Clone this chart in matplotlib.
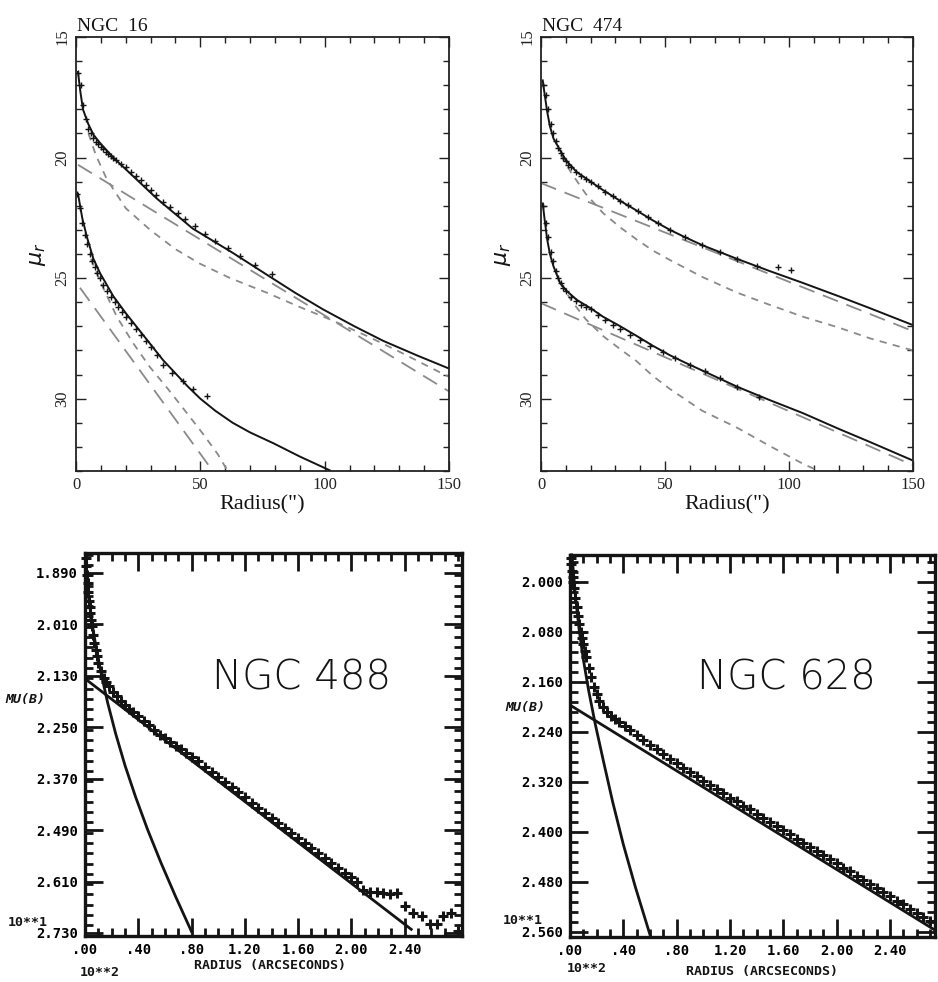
import matplotlib
matplotlib.use("Agg")
import matplotlib.pyplot as plt
from matplotlib.ticker import MultipleLocator, FixedLocator, FixedFormatter

# ---------------- data: top panels (radius in arcsec, mu_r in mag/arcsec^2) ----------------
# NGC 16 upper profile
n16_up_pts_x = [1, 2, 3, 4, 5, 6, 7, 8, 9, 10, 11, 12, 13, 14, 15, 16, 18, 20, 22, 24, 26, 28, 30, 32,
                35, 38, 41, 44, 48, 52, 56, 61, 66, 72, 79]
n16_up_pts_y = [16.5, 17.0, 17.8, 18.4, 18.8, 19.0, 19.2, 19.35, 19.45, 19.55, 19.65, 19.75, 19.85, 19.95,
                20.0, 20.1, 20.25, 20.4, 20.6, 20.75, 20.95, 21.15, 21.35, 21.55, 21.85, 22.05, 22.3, 22.55,
                22.85, 23.15, 23.45, 23.75, 24.1, 24.45, 24.85]
n16_up_fit_x = [0.8, 1.8, 2.8, 4.9, 7, 9.7, 15, 21.7, 32.5, 47, 63, 76.6, 88, 99.4, 112, 123.5, 137, 150]
n16_up_fit_y = [16.45, 17.3, 18.0, 18.6, 19.05, 19.4, 20.0, 20.65, 21.7, 22.95, 23.95, 24.85, 25.6, 26.3,
                27.0, 27.6, 28.2, 28.75]
n16_up_disk_x = [0.8, 150]
n16_up_disk_y = [20.3, 29.7]
n16_up_bulge_x = [5, 8, 12.4, 20, 29.8, 40, 49.8, 62, 76.6, 90, 103, 117, 130, 150]
n16_up_bulge_y = [19.0, 19.9, 20.9, 22.1, 23.0, 23.8, 24.4, 25.0, 25.6, 26.2, 26.75, 27.4, 28.05, 29.1]
# NGC 16 lower profile
n16_lo_pts_x = [0.5, 1.5, 2.5, 3.5, 4.5, 5.5, 6.5, 7.5, 8.5, 9.5, 11, 12.5, 14, 15.5, 17, 18.5, 20, 22,
                24, 26, 28, 30, 32.5, 35.1, 38.5, 42.9, 47.2, 52.5]
n16_lo_pts_y = [21.5, 22.1, 22.7, 23.2, 23.6, 24.0, 24.3, 24.55, 24.8, 25.0, 25.3, 25.55, 25.8, 26.0, 26.2,
                26.4, 26.6, 26.85, 27.1, 27.35, 27.6, 27.85, 28.2, 28.6, 28.95, 29.27, 29.58, 29.88]
n16_lo_fit_x = [0.8, 2.5, 4.4, 7, 9.7, 15, 20, 25, 30, 35, 40, 45, 50, 56, 63, 70, 79.4, 90, 102]
n16_lo_fit_y = [21.5, 22.5, 23.3, 24.2, 24.8, 25.75, 26.45, 27.1, 27.75, 28.4, 28.95, 29.5, 30.0, 30.5,
                31.0, 31.4, 31.85, 32.4, 32.97]
n16_lo_disk_x = [1.6, 55]
n16_lo_disk_y = [25.4, 33.0]
n16_lo_bulge_x = [6, 10, 16.4, 23, 29.8, 37, 44.6, 51, 57, 61]
n16_lo_bulge_y = [24.2, 25.2, 26.6, 27.7, 28.7, 29.6, 30.6, 31.45, 32.3, 33.0]

# NGC 474 upper profile
n474_up_pts_x = [1, 2, 3, 4, 5, 6, 7, 8, 9, 10, 11, 12, 14, 16, 18, 20, 23, 26, 29, 32, 35, 39, 43, 47,
                 52, 58, 65, 72, 79, 87, 95.6, 101]
n474_up_pts_y = [17.0, 17.4, 18.0, 18.6, 19.0, 19.3, 19.6, 19.8, 20.0, 20.15, 20.3, 20.4, 20.6, 20.75,
                 20.9, 21.0, 21.2, 21.42, 21.6, 21.8, 21.98, 22.22, 22.48, 22.72, 23.0, 23.3, 23.63, 23.92,
                 24.2, 24.5, 24.53, 24.67]
n474_up_fit_x = [0.7, 1.5, 2.5, 3.6, 5, 7.7, 10, 14.4, 20, 25, 32, 38.6, 45, 52, 58, 65.4, 79, 92, 105.6,
                 120, 132.7, 150]
n474_up_fit_y = [16.8, 17.4, 18.1, 18.7, 19.2, 19.7, 20.1, 20.6, 21.0, 21.35, 21.8, 22.2, 22.6, 23.0, 23.3,
                 23.65, 24.2, 24.7, 25.2, 25.75, 26.25, 26.95]
n474_up_disk_x = [0, 150]
n474_up_disk_y = [21.06, 27.2]
n474_up_bulge_x = [8, 12, 18, 25, 32, 38.6, 45, 52, 65, 79, 92, 105.6, 120, 132.7, 150]
n474_up_bulge_y = [19.9, 20.6, 21.5, 22.3, 22.9, 23.4, 23.85, 24.25, 24.95, 25.6, 26.1, 26.6, 27.05, 27.5,
                   28.0]
# NGC 474 lower profile
n474_lo_pts_x = [1, 2, 3, 4, 5, 6, 7, 8, 9, 10, 12, 14, 16, 18, 20, 23, 26, 29, 32, 36, 40, 44, 49, 54,
                 60, 66, 72, 79, 88]
n474_lo_pts_y = [22.0, 22.7, 23.3, 23.9, 24.3, 24.7, 25.0, 25.2, 25.4, 25.55, 25.8, 25.95, 26.1, 26.2,
                 26.3, 26.55, 26.75, 26.95, 27.1, 27.35, 27.55, 27.8, 28.05, 28.3, 28.6, 28.85, 29.15, 29.5,
                 29.93]
n474_lo_fit_x = [0.7, 1.5, 2.5, 3.6, 5, 7.7, 10, 14.4, 20, 25, 32, 38.6, 45, 52, 58, 65.4, 79, 92, 105.6,
                 120, 132.7, 149.6]
n474_lo_fit_y = [21.9, 22.6, 23.4, 24.0, 24.5, 25.2, 25.5, 25.9, 26.25, 26.6, 27.0, 27.4, 27.8, 28.2, 28.5,
                 28.85, 29.5, 30.05, 30.6, 31.25, 31.8, 32.55]
n474_lo_disk_x = [0, 150]
n474_lo_disk_y = [26.04, 32.76]
n474_lo_bulge_x = [8, 12, 18, 25, 32, 38.6, 45, 52, 65, 79, 92, 105.6, 112]
n474_lo_bulge_y = [25.2, 25.9, 26.7, 27.4, 27.95, 28.45, 29.05, 29.6, 30.5, 31.2, 31.95, 32.7, 33.0]

# ---------------- data: bottom panels (radius in 10**2 arcsec, mu(B) in 10**1 mag) ----------------
n488_pts_x = [0.005, 0.01, 0.015, 0.02, 0.025, 0.03, 0.035, 0.04, 0.045, 0.05, 0.06, 0.07, 0.08, 0.09, 0.10,
              0.12, 0.14, 0.16, 0.18, 0.21, 0.24, 0.27, 0.30, 0.33, 0.36, 0.40, 0.44, 0.48, 0.52, 0.56,
              0.60, 0.64, 0.68, 0.72, 0.76, 0.80, 0.85, 0.90, 0.95, 1.00, 1.05, 1.10, 1.15, 1.20, 1.25,
              1.30, 1.35, 1.40, 1.45, 1.50, 1.55, 1.60, 1.65, 1.70, 1.75, 1.80, 1.85, 1.90, 1.95, 2.00,
              2.04, 2.09, 2.14, 2.19, 2.24, 2.29, 2.34, 2.40, 2.46, 2.53, 2.59, 2.64, 2.69, 2.75, 2.80]
n488_pts_y = [1.855, 1.875, 1.895, 1.915, 1.935, 1.955, 1.97, 1.985, 2.0, 2.015, 2.035, 2.055, 2.07, 2.085,
              2.10, 2.12, 2.135, 2.145, 2.155, 2.168, 2.178, 2.19, 2.198, 2.207, 2.214, 2.224, 2.236, 2.245,
              2.256, 2.268, 2.276, 2.285, 2.294, 2.302, 2.31, 2.32, 2.33, 2.343, 2.355, 2.366, 2.379, 2.39,
              2.402, 2.414, 2.426, 2.438, 2.45, 2.462, 2.473, 2.486, 2.497, 2.508, 2.52, 2.532, 2.543,
              2.555, 2.566, 2.578, 2.59, 2.60, 2.612, 2.63, 2.635, 2.634, 2.636, 2.638, 2.636, 2.668, 2.683,
              2.69, 2.71, 2.71, 2.69, 2.683, 2.725]
n488_bulge_x = [0.0, 0.02, 0.05, 0.08, 0.12, 0.17, 0.23, 0.30, 0.38, 0.47, 0.57, 0.68, 0.80]
n488_bulge_y = [1.86, 1.93, 2.002, 2.059, 2.123, 2.193, 2.265, 2.339, 2.413, 2.489, 2.566, 2.645, 2.727]
n488_disk_x = [0.0, 2.449]
n488_disk_y = [2.137, 2.7215]

n628_pts_x = [0.005, 0.01, 0.015, 0.02, 0.025, 0.03, 0.04, 0.05, 0.06, 0.07, 0.08, 0.09, 0.10, 0.11, 0.12,
              0.14, 0.16, 0.18, 0.20, 0.22, 0.25, 0.28, 0.31, 0.34, 0.37, 0.41, 0.45, 0.50, 0.55, 0.60,
              0.65, 0.70, 0.75, 0.80, 0.85, 0.90, 0.95, 1.00, 1.05, 1.10, 1.15, 1.20, 1.25, 1.30, 1.35,
              1.40, 1.45, 1.50, 1.55, 1.60, 1.65, 1.70, 1.75, 1.80, 1.85, 1.90, 1.95, 2.00, 2.05, 2.10,
              2.15, 2.20, 2.25, 2.30, 2.35, 2.40, 2.45, 2.50, 2.55, 2.60, 2.65, 2.70]
n628_pts_y = [1.962, 1.972, 1.982, 1.992, 2.0, 2.01, 2.025, 2.04, 2.055, 2.068, 2.08, 2.09, 2.10, 2.11,
              2.12, 2.138, 2.152, 2.168, 2.18, 2.19, 2.2, 2.208, 2.214, 2.219, 2.224, 2.231, 2.237, 2.245,
              2.253, 2.261, 2.268, 2.276, 2.283, 2.29, 2.297, 2.304, 2.31, 2.318, 2.325, 2.331, 2.338,
              2.345, 2.351, 2.358, 2.364, 2.371, 2.378, 2.384, 2.391, 2.397, 2.404, 2.411, 2.417, 2.424,
              2.43, 2.437, 2.444, 2.45, 2.457, 2.463, 2.47, 2.477, 2.483, 2.49, 2.496, 2.503, 2.51, 2.516,
              2.523, 2.529, 2.536, 2.543]
n628_bulge_x = [0.015, 0.04, 0.07, 0.10, 0.14, 0.19, 0.25, 0.32, 0.40, 0.49, 0.60, 0.615]
n628_bulge_y = [1.957, 2.022, 2.079, 2.124, 2.174, 2.228, 2.286, 2.352, 2.42, 2.488, 2.5645, 2.575]
n628_disk_x = [0.0, 2.737]
n628_disk_y = [2.197, 2.557]

# tick labels
top_xticks = [0, 50, 100, 150]
top_yticks = [15, 20, 25, 30]
bot_xticks = [0.0, 0.4, 0.8, 1.2, 1.6, 2.0, 2.4]
bot_xlabels = [".00", ".40", ".80", "1.20", "1.60", "2.00", "2.40"]
n488_yticks = [1.89, 2.01, 2.13, 2.25, 2.37, 2.49, 2.61, 2.73]
n488_ylabels = ["1.890", "2.010", "2.130", "2.250", "2.370", "2.490", "2.610", "2.730"]
n628_yticks = [2.00, 2.08, 2.16, 2.24, 2.32, 2.40, 2.48, 2.56]
n628_ylabels = ["2.000", "2.080", "2.160", "2.240", "2.320", "2.400", "2.480", "2.560"]

W, H = 938, 982
fig = plt.figure(figsize=(W / 100, H / 100), dpi=100)
SERIF = "Liberation Serif"
MONO = "DejaVu Sans Mono"
GRAY = "#8a8a8a"
INK = "#141414"


def rect(x0, y0, x1, y1):
    return [x0 / W, 1 - y1 / H, (x1 - x0) / W, (y1 - y0) / H]


def top_panel(r, name, profiles):
    ax = fig.add_axes(r)
    ax.set_xlim(0, 150)
    ax.set_ylim(33, 15)
    ax.xaxis.set_major_locator(FixedLocator(top_xticks))
    ax.xaxis.set_minor_locator(MultipleLocator(10))
    ax.yaxis.set_major_locator(FixedLocator(top_yticks))
    ax.yaxis.set_minor_locator(MultipleLocator(1))
    ax.tick_params(which="both", direction="in", top=True, right=True, width=1.0, colors="#222")
    ax.tick_params(which="major", length=7, labelsize=12, pad=4)
    ax.tick_params(which="minor", length=4)
    for lab in ax.get_xticklabels() + ax.get_yticklabels():
        lab.set_fontfamily(SERIF)
    for lab in ax.get_yticklabels():
        lab.set_rotation(90)
        lab.set_va("center")
    for s in ax.spines.values():
        s.set_linewidth(1.3)
        s.set_color("#222")
    for (px, py, fx, fy, dx, dy, bx, by) in profiles:
        ax.plot(dx, dy, color=GRAY, lw=1.3, dashes=(9, 5))
        ax.plot(bx, by, color=GRAY, lw=1.3, dashes=(4, 3.5))
        ax.plot(fx, fy, color=INK, lw=1.4)
        ax.plot(px, py, ls="none", marker="+", ms=4, mew=1.0, color=INK)
    ax.text(0.002, 1.004, name, transform=ax.transAxes, ha="left", va="bottom",
            fontsize=14, fontfamily=SERIF, color=INK)
    ax.set_xlabel('Radius(")', fontsize=16, fontfamily=SERIF, labelpad=2, color=INK)
    ax.set_ylabel(r"$\mu_r$", fontsize=16, labelpad=5, color=INK)
    return ax


top_panel(rect(76, 37, 449, 471), "NGC  16",
          [(n16_up_pts_x, n16_up_pts_y, n16_up_fit_x, n16_up_fit_y, n16_up_disk_x, n16_up_disk_y,
            n16_up_bulge_x, n16_up_bulge_y),
           (n16_lo_pts_x, n16_lo_pts_y, n16_lo_fit_x, n16_lo_fit_y, n16_lo_disk_x, n16_lo_disk_y,
            n16_lo_bulge_x, n16_lo_bulge_y)])
top_panel(rect(541, 37, 913, 471), "NGC  474",
          [(n474_up_pts_x, n474_up_pts_y, n474_up_fit_x, n474_up_fit_y, n474_up_disk_x, n474_up_disk_y,
            n474_up_bulge_x, n474_up_bulge_y),
           (n474_lo_pts_x, n474_lo_pts_y, n474_lo_fit_x, n474_lo_fit_y, n474_lo_disk_x, n474_lo_disk_y,
            n474_lo_bulge_x, n474_lo_bulge_y)])


def bottom_panel(r, xmax, ylim, yticks, ylabels, ystep, name, name_xy, pts, bulge, disk,
                 mu_xy, e1_xy, e2_xy, rad_xy):
    ax = fig.add_axes(r)
    ax.set_xlim(0, xmax)
    ax.set_ylim(*ylim)
    ax.xaxis.set_major_locator(FixedLocator(bot_xticks))
    ax.xaxis.set_major_formatter(FixedFormatter(bot_xlabels))
    ax.xaxis.set_minor_locator(MultipleLocator(0.1))
    ax.yaxis.set_major_locator(FixedLocator(yticks))
    ax.yaxis.set_major_formatter(FixedFormatter(ylabels))
    ax.yaxis.set_minor_locator(MultipleLocator(ystep / 5))
    ax.tick_params(which="both", direction="in", top=True, right=True, width=2.0, color=INK)
    ax.tick_params(which="major", length=13, labelsize=10, pad=5)
    ax.tick_params(which="minor", length=6)
    for lab in ax.get_xticklabels() + ax.get_yticklabels():
        lab.set_fontfamily(MONO)
        lab.set_fontweight("bold")
    for s in ax.spines.values():
        s.set_linewidth(2.4)
        s.set_color(INK)
    ax.plot(disk[0], disk[1], color=INK, lw=2.0)
    ax.plot(bulge[0], bulge[1], color=INK, lw=2.0)
    ax.plot(pts[0], pts[1], ls="none", marker="+", ms=7.5, mew=2.2, color=INK, clip_on=False)
    ax.text(name_xy[0] / W, 1 - name_xy[1] / H, name, transform=fig.transFigure, ha="left",
            va="center", fontsize=29, fontfamily="DejaVu Sans", fontweight="light", color=INK)
    kw = dict(fontfamily=MONO, fontweight="bold", color=INK, fontsize=9.5)
    fig.text(mu_xy[0] / W, 1 - mu_xy[1] / H, "MU(B)", ha="left", va="center", fontstyle="italic", **kw)
    fig.text(e1_xy[0] / W, 1 - e1_xy[1] / H, "10**1", ha="left", va="center", **kw)
    fig.text(e2_xy[0] / W, 1 - e2_xy[1] / H, "10**2", ha="left", va="center", **kw)
    fig.text(rad_xy[0] / W, 1 - rad_xy[1] / H, "RADIUS (ARCSECONDS)", ha="center", va="center", **kw)
    return ax


bottom_panel(rect(85, 553, 462, 936), 2.83, (2.737, 1.844), n488_yticks, n488_ylabels, 0.12,
             "NGC 488", (212, 678), (n488_pts_x, n488_pts_y), (n488_bulge_x, n488_bulge_y),
             (n488_disk_x, n488_disk_y), (5, 700), (8, 922), (80, 972), (270, 965))
bottom_panel(rect(570, 555, 935, 937), 2.737, (2.568, 1.957), n628_yticks, n628_ylabels, 0.08,
             "NGC 628", (697, 678), (n628_pts_x, n628_pts_y), (n628_bulge_x, n628_bulge_y),
             (n628_disk_x, n628_disk_y), (505, 707), (503, 921), (567, 968), (762, 972))

fig.savefig("out.png", dpi=100)
